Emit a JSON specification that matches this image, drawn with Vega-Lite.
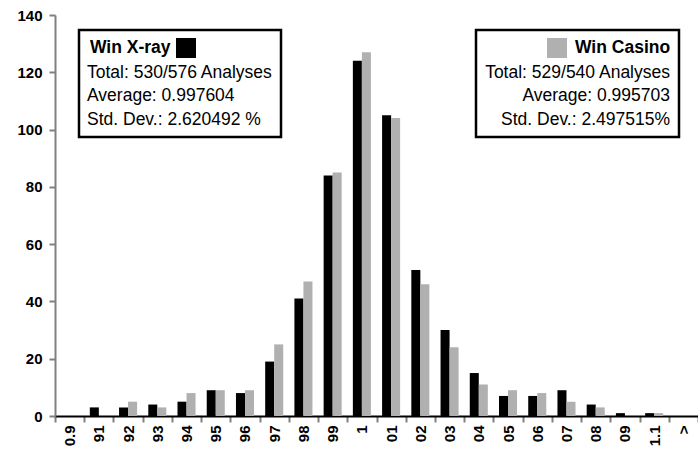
{
  "$schema": "https://vega.github.io/schema/vega-lite/v6.json",
  "autosize": {"type": "none"},
  "padding": {"left": 55, "top": 15, "right": 0, "bottom": 34},
  "width": 643,
  "height": 401,
  "background": "#ffffff",
  "data": {"values": [
    {"bin": "0.9", "series": "Win X-ray", "count": 0}, {"bin": "0.9", "series": "Win Casino", "count": 0},
    {"bin": "91", "series": "Win X-ray", "count": 3}, {"bin": "91", "series": "Win Casino", "count": 0},
    {"bin": "92", "series": "Win X-ray", "count": 3}, {"bin": "92", "series": "Win Casino", "count": 5},
    {"bin": "93", "series": "Win X-ray", "count": 4}, {"bin": "93", "series": "Win Casino", "count": 3},
    {"bin": "94", "series": "Win X-ray", "count": 5}, {"bin": "94", "series": "Win Casino", "count": 8},
    {"bin": "95", "series": "Win X-ray", "count": 9}, {"bin": "95", "series": "Win Casino", "count": 9},
    {"bin": "96", "series": "Win X-ray", "count": 8}, {"bin": "96", "series": "Win Casino", "count": 9},
    {"bin": "97", "series": "Win X-ray", "count": 19}, {"bin": "97", "series": "Win Casino", "count": 25},
    {"bin": "98", "series": "Win X-ray", "count": 41}, {"bin": "98", "series": "Win Casino", "count": 47},
    {"bin": "99", "series": "Win X-ray", "count": 84}, {"bin": "99", "series": "Win Casino", "count": 85},
    {"bin": "1", "series": "Win X-ray", "count": 124}, {"bin": "1", "series": "Win Casino", "count": 127},
    {"bin": "01", "series": "Win X-ray", "count": 105}, {"bin": "01", "series": "Win Casino", "count": 104},
    {"bin": "02", "series": "Win X-ray", "count": 51}, {"bin": "02", "series": "Win Casino", "count": 46},
    {"bin": "03", "series": "Win X-ray", "count": 30}, {"bin": "03", "series": "Win Casino", "count": 24},
    {"bin": "04", "series": "Win X-ray", "count": 15}, {"bin": "04", "series": "Win Casino", "count": 11},
    {"bin": "05", "series": "Win X-ray", "count": 7}, {"bin": "05", "series": "Win Casino", "count": 9},
    {"bin": "06", "series": "Win X-ray", "count": 7}, {"bin": "06", "series": "Win Casino", "count": 8},
    {"bin": "07", "series": "Win X-ray", "count": 9}, {"bin": "07", "series": "Win Casino", "count": 5},
    {"bin": "08", "series": "Win X-ray", "count": 4}, {"bin": "08", "series": "Win Casino", "count": 3},
    {"bin": "09", "series": "Win X-ray", "count": 1}, {"bin": "09", "series": "Win Casino", "count": 0},
    {"bin": "1.1", "series": "Win X-ray", "count": 1}, {"bin": "1.1", "series": "Win Casino", "count": 1},
    {"bin": ">", "series": "Win X-ray", "count": 0}, {"bin": ">", "series": "Win Casino", "count": 0}
  ]},
  "encoding": {
    "x": {
      "field": "bin", "type": "nominal",
      "sort": ["0.9","91","92","93","94","95","96","97","98","99","1","01","02","03","04","05","06","07","08","09","1.1",">"],
      "scale": {"paddingInner": 0, "paddingOuter": 0},
      "axis": {"title": null, "labelAngle": 270, "tickBand": "extent", "domainColor": "#000000", "domainWidth": 2, "tickColor": "#808080", "tickWidth": 2, "tickSize": 6, "labelPadding": 3}
    },
    "xOffset": {"field": "series", "type": "nominal", "sort": ["Win X-ray", "Win Casino"], "scale": {"paddingInner": 0, "paddingOuter": 0.62}},
    "y": {
      "field": "count", "type": "quantitative",
      "scale": {"domain": [0, 140], "nice": false},
      "axis": {"title": null, "grid": false, "values": [0,20,40,60,80,100,120,140], "domainColor": "#808080", "domainWidth": 2, "tickColor": "#808080", "tickWidth": 2, "tickSize": 6, "labelPadding": 7}
    }
  },
  "layer": [
    {
      "transform": [{"filter": "datum.series === 'Win X-ray'"}],
      "mark": {"type": "bar"},
      "encoding": {
        "color": {
          "field": "series", "type": "nominal",
          "scale": {"domain": ["Win X-ray"], "range": ["#000000"]},
          "legend": {
            "orient": "none", "legendX": 24, "legendY": 15,
            "title": ["Total: 530/576 Analyses", "Average: 0.997604", "Std. Dev.: 2.620492 %"],
            "titleOrient": "bottom", "titleAnchor": "start", "titleAlign": "left", "titleLimit": 400,
            "titleFont": "Liberation Sans", "titleFontSize": 17.5, "titleFontWeight": "normal", "titleColor": "#000000", "titleLineHeight": 23.3, "titlePadding": 6,
            "labelFont": "Liberation Sans", "labelFontSize": 17.5, "labelFontWeight": "bold", "labelColor": "#000000", "labelLimit": 300,
            "symbolType": "square", "symbolSize": 400, "symbolStrokeWidth": 0, "symbolOffset": 89, "labelOffset": -106,
            "strokeColor": "#000000", "fillColor": "#ffffff", "padding": 8,
            "encoding": {"legend": {"strokeWidth": {"value": 2.5}}}
          }
        }
      }
    },
    {
      "transform": [{"filter": "datum.series === 'Win Casino'"}],
      "mark": {"type": "bar"},
      "encoding": {
        "fill": {
          "field": "series", "type": "nominal",
          "scale": {"domain": ["Win Casino"], "range": ["#b0b0b0"]},
          "legend": {
            "orient": "none", "legendX": 421, "legendY": 15,
            "title": ["Total: 529/540 Analyses", "Average: 0.995703", "Std. Dev.: 2.497515%"],
            "titleOrient": "bottom", "titleAnchor": "end", "titleAlign": "right", "titleLimit": 400,
            "titleFont": "Liberation Sans", "titleFontSize": 17.5, "titleFontWeight": "normal", "titleColor": "#000000", "titleLineHeight": 23.3, "titlePadding": 6,
            "labelFont": "Liberation Sans", "labelFontSize": 17.5, "labelFontWeight": "bold", "labelColor": "#000000", "labelLimit": 300,
            "symbolType": "square", "symbolSize": 400, "symbolStrokeWidth": 0, "symbolOffset": 62, "labelOffset": 8,
            "strokeColor": "#000000", "fillColor": "#ffffff", "padding": 8,
            "encoding": {"legend": {"strokeWidth": {"value": 2.5}}}
          }
        }
      }
    }
  ],
  "config": {
    "view": {"stroke": null},
    "axis": {"labelFont": "Liberation Sans", "labelFontSize": 15, "labelFontWeight": "bold", "labelColor": "#000000"}
  }
}
